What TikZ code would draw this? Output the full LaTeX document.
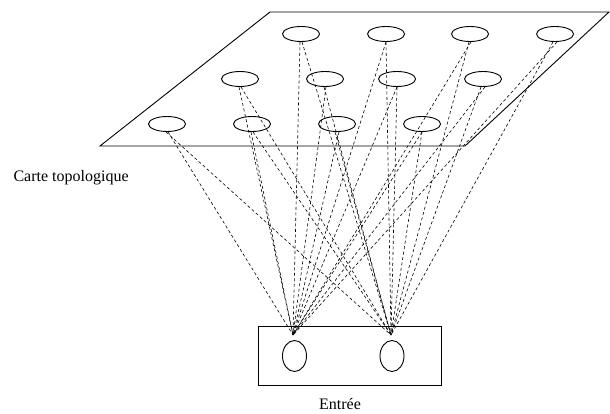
\documentclass[tikz,border=0pt]{standalone}
\usepackage{fontspec}
\setmainfont{Liberation Serif}
\usetikzlibrary{shapes.geometric}
\begin{document}
\begin{tikzpicture}[x=1pt,y=-1pt,
  neuron/.style={draw,ellipse,line width=0.9pt,minimum width=37pt,minimum height=15pt,inner sep=0pt},
  inneuron/.style={draw,ellipse,line width=0.9pt,minimum width=24pt,minimum height=31pt,inner sep=0pt},
  link/.style={line width=0.6pt,dash pattern=on 3pt off 2.5pt},
  lbl/.style={font=\fontsize{16}{18}\selectfont}]
\useasboundingbox (0,0) rectangle (610,414);
% map plane
\draw[line width=0.9pt] (100,146) -- (270,12) -- (609,12) -- (465,146) -- cycle;
% map neurons
\node[neuron] (a1) at (301,34) {};
\node[neuron] (a2) at (386,34) {};
\node[neuron] (a3) at (470,34) {};
\node[neuron] (a4) at (555,34) {};
\node[neuron] (b1) at (240,79) {};
\node[neuron] (b2) at (325,79) {};
\node[neuron] (b3) at (397,79) {};
\node[neuron] (b4) at (483,79) {};
\node[neuron] (c1) at (167,124) {};
\node[neuron] (c2) at (252,124) {};
\node[neuron] (c3) at (337,124) {};
\node[neuron] (c4) at (422,124) {};
% input box
\node[draw,line width=0.9pt,minimum width=183pt,minimum height=59pt,inner sep=0pt] (box) at (349.5,355.5) {};
\node[inneuron] (i1) at (294.5,356) {};
\node[inneuron] (i2) at (392,356) {};
\coordinate (t1) at (293,335);
\coordinate (t2) at (391,335);
% connections
\foreach \n/\d in {a1/-1,a2/0,a3/1,a4/2,b1/-1,b2/1,b3/0,b4/2,c1/1,c2/-1,c3/2,c4/0}{
  \draw[link] ([xshift=\d pt]\n.south) -- (t1);
  \draw[link] ([xshift=-\d pt]\n.south) -- (t2);
}
% labels
\node[lbl,anchor=west] (carte) at (10,178) {Carte topologique};
\node[lbl] (entree) at (340,404) {Entrée};
\end{tikzpicture}
\end{document}
